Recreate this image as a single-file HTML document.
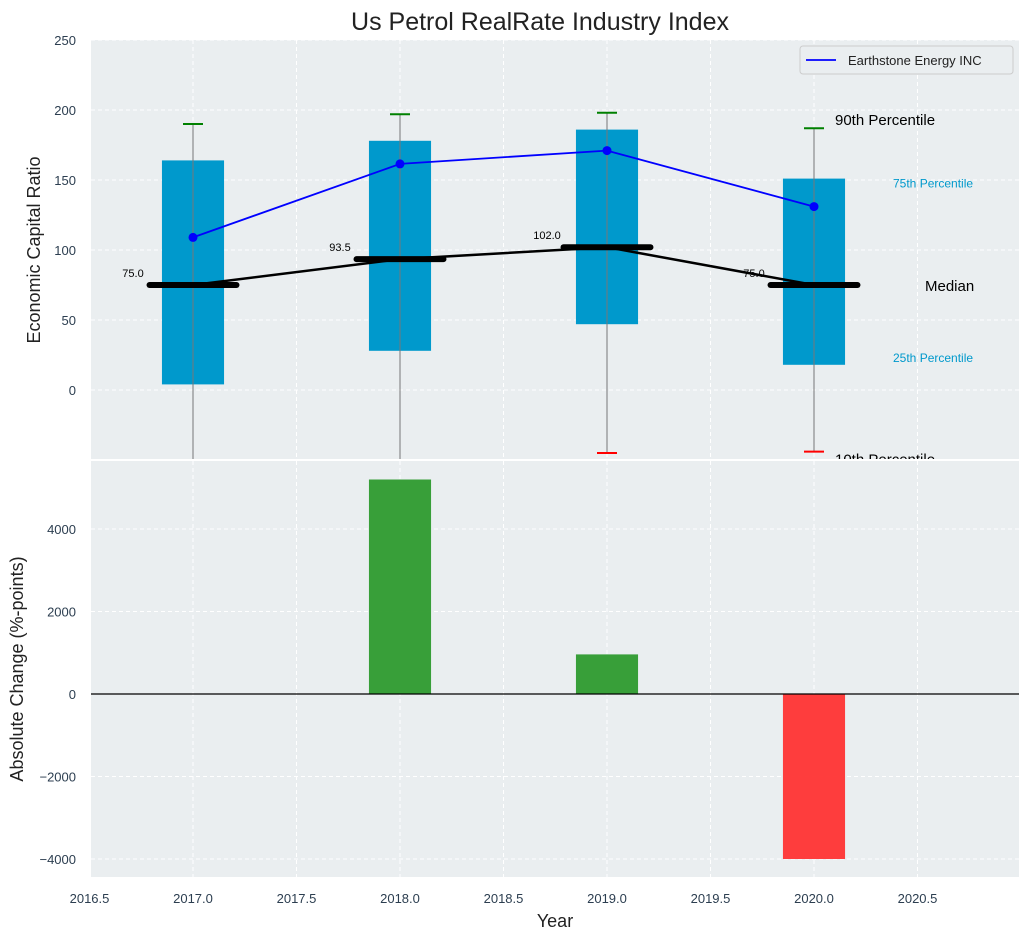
<!DOCTYPE html>
<html><head><meta charset="utf-8"><style>
body{margin:0;background:#fff;font-family:"Liberation Sans",sans-serif}
</style></head><body>
<svg id="c" width="1029" height="940" xmlns="http://www.w3.org/2000/svg" font-family="Liberation Sans, sans-serif"></svg>
<script>
const years=[2017,2018,2019,2020];
const p90=[190,197,198,187];
const p75=[164,178,186,151];
const median=[75,93.5,102,75];
const p25=[4,28,47,18];
const p10=[-60,-60,-45,-44];
const company=[109,161.5,171,131];
const changes=[0,5200,960,-4000];
const topTicks=[0,50,100,150,200,250];
const botTicks=[-4000,-2000,0,2000,4000];
const xTicks=[2016.5,2017,2017.5,2018,2018.5,2019,2019.5,2020,2020.5];

const L=91,R=1019,T1=40,B1=459,T2=461,B2=877;
const x=v=>193+(v-2017)*207;
const y1=v=>390-v*1.4;
const y2=v=>694-v*0.04125;
const svg=document.getElementById('c');
const NS='http://www.w3.org/2000/svg';
function mk(t,a,p){const e=document.createElementNS(NS,t);for(const k in a)e.setAttribute(k,a[k]);(p||svg).appendChild(e);return e;}
function txt(s,a,p){const e=mk('text',a,p);e.textContent=s;return e;}

let bg=mk('rect',{x:L,y:T1,width:R-L,height:B1-T1,fill:'#eaeef0'});

bg=mk('rect',{x:L,y:T2,width:R-L,height:B2-T2,fill:'#eaeef0'});


const defs=mk('defs',{});
let cp=mk('clipPath',{id:'c1'},defs);mk('rect',{x:L,y:T1,width:R-L,height:B1-T1},cp);
cp=mk('clipPath',{id:'c2'},defs);mk('rect',{x:L,y:T2,width:R-L,height:B2-T2},cp);

const grid=mk('g',{stroke:'#fff','stroke-dasharray':'4,3','stroke-width':1});

xTicks.forEach(t=>{mk('line',{x1:x(t),x2:x(t),y1:T1,y2:B1},grid);mk('line',{x1:x(t),x2:x(t),y1:T2,y2:B2},grid);});
topTicks.forEach(t=>mk('line',{x1:L,x2:R,y1:y1(t),y2:y1(t)},grid));
botTicks.forEach(t=>mk('line',{x1:L,x2:R,y1:y2(t),y2:y2(t)},grid));

const tl=mk('g',{fill:'#2c3e50','font-size':13});

topTicks.forEach(t=>txt(t,{x:76,y:y1(t)+5,'text-anchor':'end'},tl));
botTicks.forEach(t=>txt(t<0?'\u2212'+(-t):t,{x:76,y:y2(t)+5,'text-anchor':'end'},tl));
xTicks.forEach(t=>txt(t.toFixed(1),{x:x(t),y:903,'text-anchor':'middle'},tl));

const g1=mk('g',{'clip-path':'url(#c1)'});

years.forEach((yr,i)=>{
  const b=mk('rect',{x:x(yr-0.15),y:y1(p75[i]),width:0.3*207,height:y1(p25[i])-y1(p75[i]),fill:'#0099cc'},g1);
  
  mk('line',{x1:x(yr),x2:x(yr),y1:y1(p90[i]),y2:y1(p10[i]),stroke:'#777','stroke-width':1},g1);
  mk('line',{x1:x(yr)-10,x2:x(yr)+10,y1:y1(p90[i]),y2:y1(p90[i]),stroke:'green','stroke-width':2},g1);
  mk('line',{x1:x(yr)-10,x2:x(yr)+10,y1:y1(p10[i]),y2:y1(p10[i]),stroke:'red','stroke-width':2},g1);
  const m=mk('line',{x1:x(yr-0.21),x2:x(yr+0.21),y1:y1(median[i]),y2:y1(median[i]),stroke:'#000','stroke-width':6,'stroke-linecap':'round'},g1);
  
  txt(median[i].toFixed(1),{x:x(yr)-60,y:y1(median[i])-8,'font-size':11,'text-anchor':'middle',fill:'#000'},g1);
});
let ml=mk('polyline',{points:years.map((yr,i)=>x(yr)+','+y1(median[i])).join(' '),fill:'none',stroke:'#000','stroke-width':2.5},g1);

let cl=mk('polyline',{points:years.map((yr,i)=>x(yr)+','+y1(company[i])).join(' '),fill:'none',stroke:'blue','stroke-width':1.8},g1);

years.forEach((yr,i)=>{const c=mk('circle',{cx:x(yr),cy:y1(company[i]),r:4.5,fill:'blue'},g1);
  });
const li=3,lx=x(years[li]);
txt('90th Percentile',{x:lx+21,y:y1(p90[li])-3,'font-size':15,fill:'#000'},g1);
txt('75th Percentile',{x:lx+79,y:y1(p75[li])+9,'font-size':12,fill:'#0099cc'},g1);
txt('Median',{x:lx+111,y:y1(median[li])+6,'font-size':15,fill:'#000'},g1);
txt('25th Percentile',{x:lx+79,y:y1(p25[li])-3,'font-size':12,fill:'#0099cc'},g1);
txt('10th Percentile',{x:lx+21,y:y1(p10[li])+13,'font-size':15,fill:'#000'},g1);

const lg=mk('g',{});

mk('rect',{x:800,y:46,width:213,height:28,rx:3,fill:'#eaeef0',stroke:'#ccc'},lg);
mk('line',{x1:806,x2:836,y1:60,y2:60,stroke:'blue','stroke-width':1.8},lg);
txt('Earthstone Energy INC',{x:848,y:65,'font-size':13,fill:'#222'},lg);

const g2=mk('g',{'clip-path':'url(#c2)'});

years.forEach((yr,i)=>{
  const v=changes[i];
  const b=mk('rect',{x:x(yr-0.15),y:Math.min(y2(v),y2(0)),width:0.3*207,height:Math.abs(y2(v)-y2(0)),fill:v>=0?'#2e9a2e':'#ff3333','fill-opacity':0.95},g2);
  
});
mk('line',{x1:L,x2:R,y1:y2(0),y2:y2(0),stroke:'#000','stroke-width':1.2},g2);

let t=txt('Us Petrol RealRate Industry Index',{x:540,y:30,'font-size':25,'text-anchor':'middle',fill:'#222'});

t=txt('Economic Capital Ratio',{x:40,y:250,'font-size':18,'text-anchor':'middle',fill:'#222',transform:'rotate(-90 40 250)'});

t=txt('Absolute Change (%-points)',{x:23,y:669,'font-size':18,'text-anchor':'middle',fill:'#222',transform:'rotate(-90 23 669)'});

t=txt('Year',{x:555,y:927,'font-size':18,'text-anchor':'middle',fill:'#222'});

</script>
</body></html>
